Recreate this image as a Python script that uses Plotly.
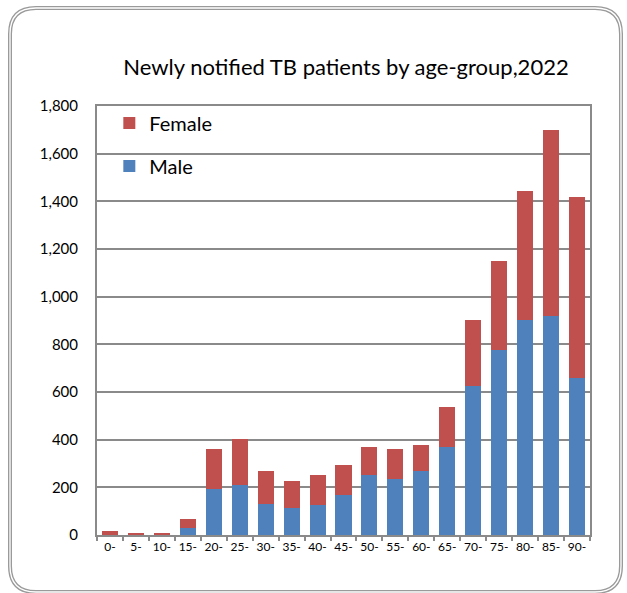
import plotly.graph_objects as go

age_groups = ["0-", "5-", "10-", "15-", "20-", "25-", "30-", "35-", "40-", "45-",
              "50-", "55-", "60-", "65-", "70-", "75-", "80-", "85-", "90-"]
male = [0, 0, 0, 28, 194, 211, 129, 112, 127, 169, 252, 235, 269, 369, 627, 777, 902, 919, 660]
female = [18, 10, 10, 39, 165, 190, 139, 114, 124, 126, 117, 126, 108, 167, 275, 374, 540, 782, 758]
y_ticks = [0, 200, 400, 600, 800, 1000, 1200, 1400, 1600, 1800]

W, H = 627, 593
ML, MR, MT, MB = 97, 37, 106, 58
PW, PH = W - ML - MR, H - MT - MB


def px(x):
    return (x - ML) / PW


def py(y):
    return (H - MB - y) / PH


def rounded_path(x0, y0, x1, y1, r):
    pts = []
    pts.append(f"M {px(x0 + r)},{py(y0)}")
    pts.append(f"L {px(x1 - r)},{py(y0)}")
    pts.append(f"Q {px(x1)},{py(y0)} {px(x1)},{py(y0 + r)}")
    pts.append(f"L {px(x1)},{py(y1 - r)}")
    pts.append(f"Q {px(x1)},{py(y1)} {px(x1 - r)},{py(y1)}")
    pts.append(f"L {px(x0 + r)},{py(y1)}")
    pts.append(f"Q {px(x0)},{py(y1)} {px(x0)},{py(y1 - r)}")
    pts.append(f"L {px(x0)},{py(y0 + r)}")
    pts.append(f"Q {px(x0)},{py(y0)} {px(x0 + r)},{py(y0)}")
    pts.append("Z")
    return " ".join(pts)


fig = go.Figure()
fig.add_trace(go.Bar(x=age_groups, y=male, name="Male", marker_color="#4F81BD",
                     marker_line_width=0, legendgroup="m", legendrank=2))
fig.add_trace(go.Bar(x=age_groups, y=female, name="Female", marker_color="#C0504D",
                     marker_line_width=0, legendgroup="f", legendrank=1))

grid = "#8a8a8a"
fig.update_layout(
    width=W, height=H,
    margin=dict(l=ML, r=MR, t=MT, b=MB, autoexpand=False),
    barmode="stack",
    bargap=0.38,
    paper_bgcolor="white",
    plot_bgcolor="white",
    font=dict(family="Lato, Liberation Sans, sans-serif", color="black"),
    title=dict(text="Newly notified TB patients by age-group,2022",
               x=346 / W, xanchor="center", y=1 - 67 / H, yanchor="middle",
               font=dict(size=22, family="Lato, sans-serif", color="black")),
    legend=dict(x=0.025, y=1.006, xanchor="left", yanchor="top",
                traceorder="grouped", tracegroupgap=14,
                font=dict(size=20), bgcolor="rgba(0,0,0,0)"),
    xaxis=dict(type="category", showline=True, linecolor=grid, linewidth=2, mirror=True,
               ticks="outside", tickson="boundaries", ticklen=4, tickcolor=grid, tickwidth=2,
               tickangle=0, tickfont=dict(size=12), showgrid=False),
    yaxis=dict(range=[0, 1800], tickvals=y_ticks, tickformat=",", showline=True,
               linecolor=grid, linewidth=2, mirror=True, showgrid=True, gridcolor=grid,
               gridwidth=1.5, ticks="", tickfont=dict(size=15), ticklabelstandoff=14,
               zeroline=False),
)

fig.add_shape(type="path", xref="paper", yref="paper",
              path=rounded_path(10, 8, 621, 592, 26),
              line=dict(color="#9a9a9a", width=4), layer="above")
fig.add_shape(type="path", xref="paper", yref="paper",
              path=rounded_path(10, 8, 621, 592, 26),
              line=dict(color="white", width=1.3), layer="above")

fig.write_html("out.html", post_script="document.body.style.margin='0';",
               config={"displayModeBar": False})
